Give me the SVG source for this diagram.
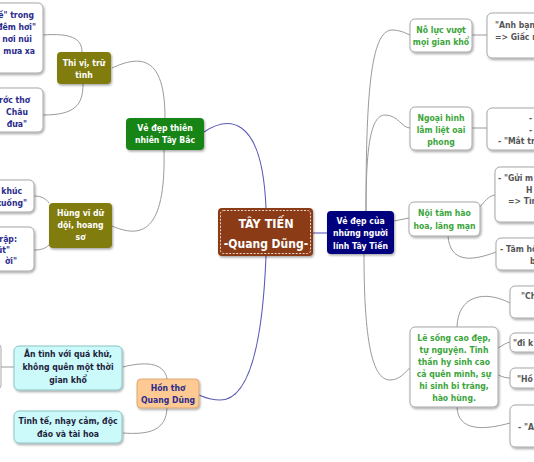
<svg xmlns="http://www.w3.org/2000/svg" width="534" height="462" viewBox="0 0 534 462">
<defs>
<filter id="sh" x="-20%" y="-20%" width="140%" height="150%">
<feDropShadow dx="1" dy="1.5" stdDeviation="1" flood-color="#000" flood-opacity="0.35"/>
</filter>
</defs>
<style>
text{font-family:"DejaVu Sans Condensed","DejaVu Sans",sans-serif;font-stretch:condensed;font-weight:bold;font-size:8.6px}
.c{text-anchor:middle}
.e{text-anchor:end}
.w{fill:#fff}
.nv{fill:#2b2b8c}
.gr{fill:#3aa53a}
.gy{fill:#555}
.dk{fill:#1e1e3c}
.box{fill:#fff;stroke:#a8a8a8;stroke-width:1}
.cy{fill:#ccfafa;stroke:#8cc4c4;stroke-width:1}
.bl{fill:none;stroke:#5c5cb8;stroke-width:1.1}
.g{fill:none;stroke:#9a9a9a;stroke-width:1}
</style>
<rect width="534" height="462" fill="#fff"/>
<g id="connectors">
<path class="bl" d="M313,233 L327,233"/>
<path class="bl" d="M204,132 C225,118 262,110 266,208"/>
<path class="bl" d="M266,256 C262,360 245,400 220,400 C210,400 204,397 199,395"/>
<path class="g" d="M112,68 C140,55 165,55 165,118"/>
<path class="g" d="M164,150 C166,235 140,238 112,226"/>
<path class="g" d="M43,35 C70,33 82,38 82,52"/>
<path class="g" d="M83,84 C83,105 75,115 43,115"/>
<path class="g" d="M34,196 C42,196 46,199 49,203"/>
<path class="g" d="M34,250 C42,250 46,248 49,245"/>
<path class="g" d="M123,367 C150,360 165,365 167,379"/>
<path class="g" d="M167,408 C166,430 150,435 123,433"/>
<path class="g" d="M0,367 L14,367"/>
<path class="g" d="M366,211 C366,100 370,30 392,30 C400,30 405,33 410,35"/>
<path class="g" d="M366,211 C366,150 370,115 385,115 C398,115 402,128 410,128"/>
<path class="g" d="M394,221 L409,218"/>
<path class="g" d="M364,254 C364,340 372,380 390,380 C400,380 405,372 410,368"/>
<path class="g" d="M472,35 L487,35"/>
<path class="g" d="M472,128 L487,128"/>
<path class="g" d="M480,207 C487,198 490,196 495,195"/>
<path class="g" d="M448,236 C450,262 470,262 496,252"/>
<path class="g" d="M457,327 C458,295 485,290 510,303"/>
<path class="g" d="M498,348 C503,345 506,343 510,342"/>
<path class="g" d="M498,375 C503,377 506,378 510,378"/>
<path class="g" d="M457,407 C458,432 485,430 510,423"/>
</g>
<g id="center">
<rect x="218" y="208" width="95" height="48" rx="4" fill="#8b3a12" filter="url(#sh)"/>
<rect x="220.5" y="210.5" width="90" height="43" rx="3" fill="none" stroke="#fff" stroke-width="0.8" stroke-dasharray="2,1.5"/>
<text x="266" y="228" class="c w" style="font-size:12.5px">TÂY TIẾN</text>
<text x="266" y="248" class="c w" style="font-size:12px">-Quang Dũng-</text>
</g>
<g id="n-linh">
<rect x="327" y="211" width="67" height="43" rx="4" fill="#06067e" filter="url(#sh)"/>
<text x="360.5" y="223.5" class="c w">Vẻ đẹp của</text>
<text x="360.5" y="236" class="c w">những người</text>
<text x="360.5" y="248.5" class="c w">lính Tây Tiến</text>
</g>
<g id="n-thiennhien">
<rect x="126" y="118" width="78" height="32" rx="4" fill="#178517" filter="url(#sh)"/>
<text x="165" y="130.5" class="c w">Vẻ đẹp thiên</text>
<text x="165" y="142.5" class="c w">nhiên Tây Bắc</text>
</g>
<g id="n-thivi">
<rect x="57" y="52" width="54" height="32" rx="4" fill="#807c10" filter="url(#sh)"/>
<text x="84" y="65.5" class="c w">Thi vị, trữ</text>
<text x="84" y="77.5" class="c w">tình</text>
</g>
<g id="n-thivi-1">
<rect x="-60" y="3" width="103" height="70" rx="5" class="box" filter="url(#sh)"/>
<text x="34" y="18" class="e nv">ề" trong</text>
<text x="36" y="30" class="e nv">"đêm hơi"</text>
<text x="32" y="42" class="e nv">nơi núi</text>
<text x="35" y="54" class="e nv">mưa xa</text>
</g>
<g id="n-thivi-2">
<rect x="-60" y="88" width="103" height="44" rx="5" class="box" filter="url(#sh)"/>
<text x="30" y="103" class="e nv">rớc thơ</text>
<text x="28" y="115" class="e nv">Châu</text>
<text x="27" y="127" class="e nv">đưa"</text>
</g>
<g id="n-hungvi">
<rect x="49" y="203" width="63" height="45" rx="4" fill="#807c10" filter="url(#sh)"/>
<text x="80.5" y="215.5" class="c w">Hùng vĩ dữ</text>
<text x="80.5" y="227.5" class="c w">dội, hoang</text>
<text x="80.5" y="240" class="c w">sơ</text>
</g>
<g id="n-hungvi-1">
<rect x="-60" y="180" width="94" height="32" rx="5" class="box" filter="url(#sh)"/>
<text x="22" y="193.5" class="e nv">khúc</text>
<text x="27" y="205.5" class="e nv">xuống"</text>
</g>
<g id="n-hungvi-2">
<rect x="-60" y="227" width="94" height="44" rx="5" class="box" filter="url(#sh)"/>
<text x="17" y="242" class="e nv">rập:</text>
<text x="10" y="253" class="e nv">út"</text>
<text x="17" y="264" class="e nv">ời"</text>
</g>
<g id="n-honTho">
<rect x="137" y="379" width="62" height="29" rx="4" fill="#fec992" stroke="#d49e64" stroke-width="0.8" filter="url(#sh)"/>
<text x="168" y="391" class="c nv">Hồn thơ</text>
<text x="168" y="403" class="c nv">Quang Dũng</text>
</g>
<g id="n-offleft">
<rect x="-40" y="343" width="41" height="47" rx="5" class="box"/>
</g>
<g id="n-antinh">
<rect x="14" y="346" width="108" height="44" rx="5" class="cy" filter="url(#sh)"/>
<text x="68" y="357" class="c dk">Ân tình với quá khứ,</text>
<text x="68" y="370" class="c dk">không quên một thời</text>
<text x="68" y="383" class="c dk">gian khổ</text>
</g>
<g id="n-tinhte">
<rect x="14" y="411" width="108" height="32" rx="5" class="cy" filter="url(#sh)"/>
<text x="68" y="424" class="c dk">Tinh tế, nhạy cảm, độc</text>
<text x="68" y="437" class="c dk">đáo và tài hoa</text>
</g>
<g id="n-nolu">
<rect x="410" y="19" width="62" height="33" rx="5" class="box" filter="url(#sh)"/>
<text x="441" y="32.5" class="c gr">Nỗ lực vượt</text>
<text x="441" y="45" class="c gr">mọi gian khổ</text>
</g>
<g id="n-nolu-1">
<rect x="487" y="13" width="100" height="45" rx="5" class="box" filter="url(#sh)"/>
<text x="495" y="28" class="gy">"Anh bạn</text>
<text x="495" y="39.5" class="gy">=&gt; Giấc ng</text>
</g>
<g id="n-ngoaihinh">
<rect x="410" y="107" width="62" height="43" rx="5" class="box" filter="url(#sh)"/>
<text x="441" y="121" class="c gr">Ngoại hình</text>
<text x="441" y="133" class="c gr">lẫm liệt oai</text>
<text x="441" y="145" class="c gr">phong</text>
</g>
<g id="n-ngoaihinh-1">
<rect x="487" y="108" width="100" height="42" rx="5" class="box" filter="url(#sh)"/>
<text x="529" y="121" class="gy">-</text>
<text x="529" y="132.5" class="gy">-</text>
<text x="498" y="144" class="gy">- "Mắt tr</text>
</g>
<g id="n-noitam">
<rect x="409" y="202" width="71" height="34" rx="5" class="box" filter="url(#sh)"/>
<text x="444.5" y="216" class="c gr">Nội tâm hào</text>
<text x="444.5" y="228.5" class="c gr">hoa, lãng mạn</text>
</g>
<g id="n-noitam-1">
<rect x="495" y="167" width="100" height="55" rx="5" class="box" filter="url(#sh)"/>
<text x="498" y="181" class="gy">- "Gửi m</text>
<text x="526" y="192.5" class="gy">H</text>
<text x="508" y="204" class="gy">=&gt; Tìn</text>
</g>
<g id="n-noitam-2">
<rect x="496" y="238" width="100" height="32" rx="5" class="box" filter="url(#sh)"/>
<text x="500" y="252" class="gy">- Tâm hồ</text>
<text x="530" y="264" class="gy">b</text>
</g>
<g id="n-lesong">
<rect x="410" y="327" width="88" height="80" rx="5" class="box" filter="url(#sh)"/>
<text x="454" y="341" class="c gr">Lẽ sống cao đẹp,</text>
<text x="454" y="353" class="c gr">tự nguyện. Tinh</text>
<text x="454" y="365" class="c gr">thần hy sinh cao</text>
<text x="454" y="377" class="c gr">cả quên mình, sự</text>
<text x="454" y="389" class="c gr">hi sinh bi tráng,</text>
<text x="454" y="401" class="c gr">hào hùng.</text>
</g>
<g id="n-lesong-1">
<rect x="510" y="286" width="90" height="32" rx="5" class="box" filter="url(#sh)"/>
<text x="521" y="299" class="gy">"Ch</text>
</g>
<g id="n-lesong-2">
<rect x="510" y="333" width="90" height="19" rx="5" class="box" filter="url(#sh)"/>
<text x="513" y="346" class="gy">"đi k</text>
</g>
<g id="n-lesong-3">
<rect x="510" y="368" width="90" height="20" rx="5" class="box" filter="url(#sh)"/>
<text x="517" y="381.5" class="gy">"Hồ</text>
</g>
<g id="n-lesong-4">
<rect x="510" y="405" width="90" height="42" rx="5" class="box" filter="url(#sh)"/>
<text x="518" y="429.5" class="gy">- "A</text>
</g>
</svg>
